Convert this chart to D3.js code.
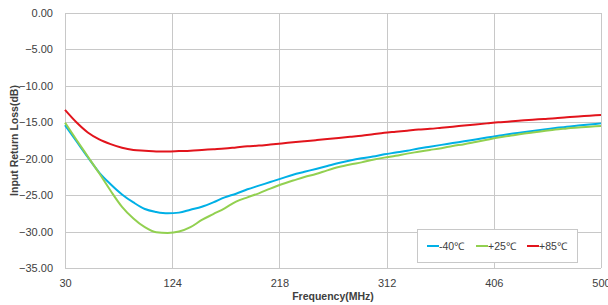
<!DOCTYPE html>
<html>
<head>
<meta charset="utf-8">
<script src="https://cdn.jsdelivr.net/npm/d3@7"></script>
<style>
  body { margin: 0; background: #fff; }
  text { font-family: "Liberation Sans", Arial, sans-serif; }
</style>
</head>
<body>
<div id="chart"></div>
<script>

var freqs = [30,40,50,60,70,80,90,100,110,120,130,140,150,160,170,180,190,200,210,220,230,240,250,260,270,280,290,300,310,320,330,340,350,360,370,380,390,400,410,420,430,440,450,460,470,480,490,500];

var minus40 = [-15.4,-17.6,-19.8,-21.9,-23.5,-24.9,-26.0,-26.9,-27.3,-27.5,-27.4,-27.0,-26.6,-26.0,-25.3,-24.8,-24.2,-23.7,-23.2,-22.7,-22.2,-21.8,-21.4,-21.0,-20.6,-20.25,-19.95,-19.7,-19.4,-19.15,-18.9,-18.6,-18.35,-18.1,-17.85,-17.6,-17.35,-17.1,-16.85,-16.6,-16.4,-16.2,-16.0,-15.8,-15.6,-15.45,-15.3,-15.15];

var plus25 = [-15.05,-17.4,-19.7,-22.0,-24.4,-26.6,-28.2,-29.4,-30.1,-30.2,-30.0,-29.4,-28.4,-27.6,-26.8,-25.9,-25.3,-24.75,-24.1,-23.5,-23.0,-22.5,-22.1,-21.6,-21.15,-20.8,-20.5,-20.15,-19.85,-19.6,-19.3,-19.05,-18.8,-18.55,-18.25,-18.0,-17.7,-17.4,-17.1,-16.85,-16.6,-16.4,-16.2,-16.0,-15.85,-15.7,-15.6,-15.5];

var plus85 = [-13.3,-15.0,-16.4,-17.35,-18.0,-18.5,-18.8,-18.9,-19.0,-19.0,-18.95,-18.9,-18.8,-18.7,-18.6,-18.45,-18.3,-18.2,-18.05,-17.9,-17.75,-17.6,-17.45,-17.3,-17.15,-17.0,-16.85,-16.65,-16.45,-16.3,-16.15,-16.0,-15.9,-15.75,-15.6,-15.45,-15.3,-15.15,-15.0,-14.9,-14.75,-14.65,-14.55,-14.45,-14.3,-14.2,-14.1,-14.0];

var series_names = ["-40\u2103", "+25\u2103", "+85\u2103"];
var series_colors = ["rgb(0,176,230)", "rgb(146,208,80)", "rgb(226,20,28)"];
var series_values = [minus40, plus25, plus85];

var x_ticks = [30, 124, 218, 312, 406, 500];
var y_ticks = [0, -5, -10, -15, -20, -25, -30, -35];

var width = 608, height = 305;
var plotLeft = 65, plotRight = 601, plotTop = 13, plotBottom = 268;

var svg = d3.select("#chart")
  .append("svg")
  .attr("width", width)
  .attr("height", height);

var x = d3.scaleLinear().domain([30, 500]).range([plotLeft, plotRight]);
var y = d3.scaleLinear().domain([-35, 0]).range([plotBottom, plotTop]);

// grid
svg.append("g").selectAll("line").data(y_ticks)
  .enter().append("line")
  .attr("x1", plotLeft).attr("x2", plotRight)
  .attr("y1", function(d) { return Math.round(y(d)) + 0.5; })
  .attr("y2", function(d) { return Math.round(y(d)) + 0.5; })
  .attr("stroke", "#c8c8c8")
  .attr("stroke-width", 1);

svg.append("g").selectAll("line").data(x_ticks)
  .enter().append("line")
  .attr("x1", function(d) { return Math.round(x(d)) + 0.5; })
  .attr("x2", function(d) { return Math.round(x(d)) + 0.5; })
  .attr("y1", plotTop).attr("y2", plotBottom)
  .attr("stroke", "#c8c8c8")
  .attr("stroke-width", 1);

// axes (labels only)
var yAxis = svg.append("g")
  .attr("transform", "translate(" + (plotLeft - 12) + ",0)")
  .call(d3.axisLeft(y).tickValues(y_ticks).tickSize(0).tickFormat(d3.format(".2f")));
yAxis.select(".domain").remove();
yAxis.selectAll("text")
  .attr("x", 0)
  .style("font-size", "11px")
  .style("fill", "#404040");

var xAxis = svg.append("g")
  .attr("transform", "translate(0," + (plotBottom + 8) + ")")
  .call(d3.axisBottom(x).tickValues(x_ticks).tickSize(0));
xAxis.select(".domain").remove();
xAxis.selectAll("text")
  .style("font-size", "11px")
  .style("fill", "#404040");

// titles
svg.append("text")
  .attr("x", (plotLeft + plotRight) / 2)
  .attr("y", 300)
  .style("text-anchor", "middle")
  .style("font-size", "10.5px")
  .style("font-weight", "bold")
  .style("fill", "#404040")
  .text("Frequency(MHz)");

svg.append("text")
  .attr("transform", "translate(18," + ((plotTop + plotBottom) / 2) + ")rotate(-90)")
  .style("text-anchor", "middle")
  .style("font-size", "10.5px")
  .style("font-weight", "bold")
  .style("fill", "#404040")
  .text("Input Return Loss(dB)");

// lines
var line = d3.line()
  .x(function(d, i) { return x(freqs[i]); })
  .y(function(d) { return y(d); })
  .curve(d3.curveMonotoneX);

svg.append("g").selectAll("path").data(series_values)
  .enter().append("path")
  .attr("d", line)
  .attr("fill", "none")
  .attr("stroke", function(d, i) { return series_colors[i]; })
  .attr("stroke-width", 2);

// legend
var legend = svg.append("g").attr("class", "legend");

legend.append("rect")
  .attr("x", 417.5).attr("y", 229.5)
  .attr("width", 160).attr("height", 33)
  .attr("fill", "white")
  .attr("stroke", "#c8c8c8")
  .attr("stroke-width", 1);

var legend_x = [427, 476, 527];

legend.selectAll("g.item").data(series_names)
  .enter().append("g")
  .attr("class", "item")
  .each(function(d, i) {
    var g = d3.select(this);
    g.append("line")
      .attr("x1", legend_x[i]).attr("x2", legend_x[i] + 12)
      .attr("y1", 246).attr("y2", 246)
      .attr("stroke", series_colors[i])
      .attr("stroke-width", 2);
    g.append("text")
      .attr("x", legend_x[i] + 12)
      .attr("y", 250)
      .style("font-size", "10.5px")
      .style("fill", "#404040")
      .text(d);
  });

</script>
</body>
</html>
